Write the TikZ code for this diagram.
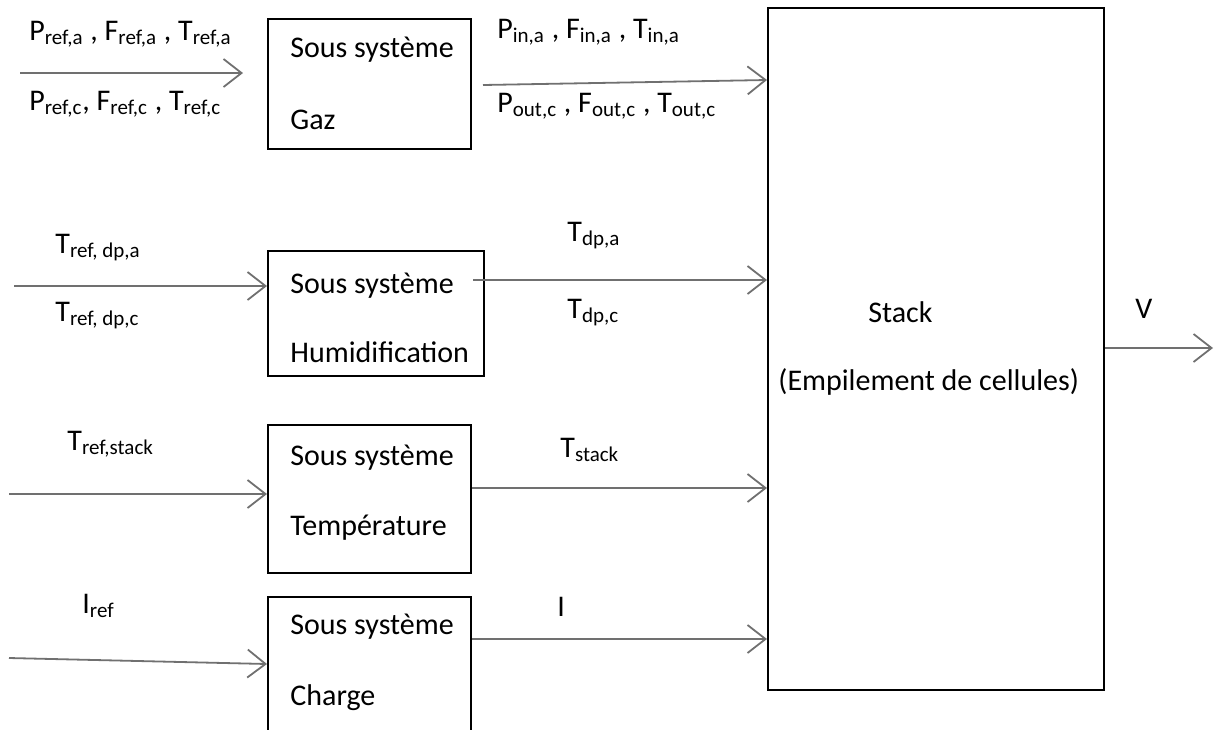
\documentclass[tikz,border=0pt]{standalone}
\usepackage{fontspec}
\setmainfont{Carlito}
\usetikzlibrary{arrows.meta}
\definecolor{arrowgray}{RGB}{112,112,112}
\tikzset{
  blk/.style={draw=black, line width=1pt, rectangle, inner sep=0pt},
  lbl/.style={anchor=base west, inner sep=0pt, font=\fontsize{15}{18}\selectfont},
  flow/.style={draw=arrowgray, line width=0.9pt, -{Straight Barb[length=9pt,width=14pt,line width=0.9pt]}}
}
\begin{document}
\begin{tikzpicture}[x=0.5pt,y=-0.5pt]
\useasboundingbox (0,0) rectangle (1215,729);
\clip (0,0) rectangle (1215,729);
% boxes
\node[blk, minimum width=101.5pt, minimum height=65pt] (gaz) at (369.5,84) {};
\node[blk, minimum width=108pt, minimum height=62.5pt] (hum) at (376,313.5) {};
\node[blk, minimum width=101.5pt, minimum height=74pt] (tmp) at (369.5,499) {};
\node[blk, minimum width=101.5pt, minimum height=72pt] (chg) at (369.5,669) {};
\node[blk, minimum width=168pt, minimum height=341pt] (stk) at (936,349) {};
% box texts
\node[lbl] (g1) at (290,57) {Sous système};
\node[lbl] (g2) at (290,129) {Gaz};
\node[lbl] (h1) at (290,293) {Sous système};
\node[lbl] (h2) at (290,362) {Humidification};
\node[lbl] (t1) at (290,465) {Sous système};
\node[lbl] (t2) at (290,535) {Température};
\node[lbl] (c1) at (290,634) {Sous système};
\node[lbl] (c2) at (290,705) {Charge};
\node[lbl] (s1) at (868,322) {Stack};
\node[lbl] (s2) at (778,390) {(Empilement de cellules)};
% signal labels
\node[lbl] (l1) at (29,40) {P\textsubscript{ref,a} , F\textsubscript{ref,a} , T\textsubscript{ref,a}};
\node[lbl] (l2) at (29,110) {P\textsubscript{ref,c}, F\textsubscript{ref,c} , T\textsubscript{ref,c}};
\node[lbl] (l3) at (497,38) {P\textsubscript{in,a} , F\textsubscript{in,a} , T\textsubscript{in,a}};
\node[lbl] (l4) at (497,112) {P\textsubscript{out,c} , F\textsubscript{out,c} , T\textsubscript{out,c}};
\node[lbl] (l5) at (55,253) {T\textsubscript{ref, dp,a}};
\node[lbl] (l6) at (55,321) {T\textsubscript{ref, dp,c}};
\node[lbl] (l7) at (567,241) {T\textsubscript{dp,a}};
\node[lbl] (l8) at (567,318) {T\textsubscript{dp,c}};
\node[lbl] (l9) at (67,450) {T\textsubscript{ref,stack}};
\node[lbl] (l10) at (560,457) {T\textsubscript{stack}};
\node[lbl] (l11) at (82,613) {I\textsubscript{ref}};
\node[lbl] (l12) at (557,616) {I};
\node[lbl] (l13) at (1135,318) {V};
% connector end points
\coordinate (a1s) at (20,73);
\coordinate (a1e) at (243,73);
\coordinate (a2s) at (483,85);
\coordinate (a2e) at (stk.west |- 0,80);
\coordinate (a3s) at (14,286);
\coordinate (a3e) at (hum.west |- 0,286);
\coordinate (a4s) at (473,280);
\coordinate (a4e) at (stk.west |- 0,280);
\coordinate (a5s) at (9,494);
\coordinate (a5e) at (tmp.west |- 0,494);
\coordinate (a6s) at (tmp.east |- 0,488);
\coordinate (a6e) at (stk.west |- 0,488);
\coordinate (a7s) at (9,658);
\coordinate (a7e) at (chg.west |- 0,664);
\coordinate (a8s) at (chg.east |- 0,639);
\coordinate (a8e) at (stk.west |- 0,639);
\coordinate (a9s) at (stk.east |- 0,348);
\coordinate (a9e) at (1213,348);
% connectors
\draw[flow] (a1s) -- (a1e);
\draw[flow] (a2s) -- (a2e);
\draw[flow] (a3s) -- (a3e);
\draw[flow] (a4s) -- (a4e);
\draw[flow] (a5s) -- (a5e);
\draw[flow] (a6s) -- (a6e);
\draw[flow] (a7s) -- (a7e);
\draw[flow] (a8s) -- (a8e);
\draw[flow] (a9s) -- (a9e);
\end{tikzpicture}
\end{document}
